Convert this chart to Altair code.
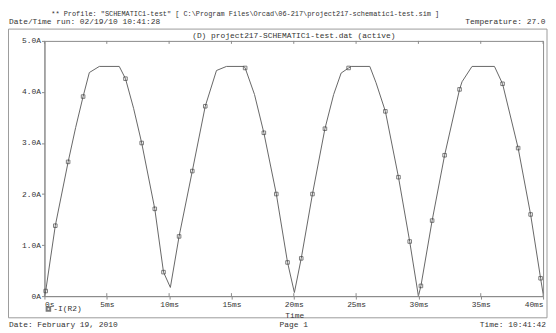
import altair as alt
import pandas as pd

# ---- data ----
line_t = [0.0, 0.1, 0.87, 1.9, 2.5, 3.1, 3.6, 4.4, 6.0, 6.5, 7.15, 7.8, 8.85, 9.55, 10.1,
          10.8, 11.86, 12.9, 13.8, 14.6, 16.0, 16.1, 16.85, 17.6, 18.6, 19.5, 20.05,
          20.6, 21.5, 22.5, 23.2, 23.8, 24.4, 24.6, 26.1, 26.6, 27.35, 28.4, 29.3, 30.0,
          30.2, 31.1, 32.1, 33.3, 33.5, 34.3, 36.1, 36.75, 38.0, 39.0, 39.8, 40.0]
line_i = [0.0, 0.1, 1.38, 2.63, 3.3, 3.91, 4.38, 4.5, 4.5, 4.26, 3.68, 3.0, 1.71, 0.47, 0.17,
          1.17, 2.45, 3.72, 4.42, 4.5, 4.5, 4.47, 3.95, 3.2, 2.0, 0.66, 0.07,
          0.74, 2.0, 3.28, 3.95, 4.37, 4.47, 4.5, 4.5, 4.18, 3.62, 2.33, 1.07, 0.0,
          0.2, 1.48, 2.76, 4.05, 4.2, 4.5, 4.5, 4.16, 2.9, 1.6, 0.35, 0.05]
marker_t = [0.1, 0.87, 1.9, 3.1, 6.5, 7.8, 8.85, 9.55,
            10.8, 11.86, 12.9, 16.1, 17.6, 18.6, 19.5,
            20.6, 21.5, 22.5, 24.4, 27.35, 28.4, 29.3,
            30.2, 31.1, 32.1, 33.3, 36.75, 38.0, 39.0, 39.8]
marker_i = [0.1, 1.38, 2.63, 3.91, 4.26, 3.0, 1.71, 0.47,
            1.17, 2.45, 3.72, 4.47, 3.2, 2.0, 0.66,
            0.74, 2.0, 3.28, 4.47, 3.62, 2.33, 1.07,
            0.2, 1.48, 2.76, 4.05, 4.16, 2.9, 1.6, 0.35]
x_ticks = [0, 5, 10, 15, 20, 25, 30, 35, 40]
y_ticks = [0, 1, 2, 3, 4, 5]

header1 = '** Profile: "SCHEMATIC1-test"  [ C:\\Program Files\\Orcad\\06-217\\project217-schematic1-test.sim ]'
header2 = "Date/Time run: 02/19/10 10:41:28"
temp_txt = "Temperature: 27.0"
title_txt = "(D) project217-SCHEMATIC1-test.dat (active)"
xtitle = "Time"
legend_txt = "-I(R2)"
foot_left = "Date: February 19, 2010"
foot_mid = "Page 1"
foot_right = "Time: 10:41:42"

FONT = "Liberation Mono"
TXT = "#333333"
GRID = "#8a8a8a"
W, H = 506, 259

df_line = pd.DataFrame({"t": line_t, "i": line_i})
df_mark = pd.DataFrame({"t": marker_t, "i": marker_i})
df_xt = pd.DataFrame({"t": x_ticks})
one = alt.Data(values=[{"a": 1}])

xs = alt.Scale(domain=[0, 40], nice=False, zero=False)
ys = alt.Scale(domain=[0, 5], nice=False)

axis_common = dict(labelFont=FONT, labelFontSize=8, labelColor=TXT, domainColor=GRID,
                   tickColor=GRID, tickSize=3, grid=False, title=None)

line = alt.Chart(df_line).mark_line(color="#666666", strokeWidth=1).encode(
    x=alt.X("t:Q", scale=xs, axis=alt.Axis(values=x_ticks, labelPadding=2,
            labelExpr="datum.value == 0 ? '0s' : datum.value + 'ms'", **axis_common)),
    y=alt.Y("i:Q", scale=ys, axis=alt.Axis(values=y_ticks, labelPadding=1,
            labelExpr="datum.value == 0 ? '0A' : format(datum.value, '.1f') + 'A'", **axis_common)),
)

marks = alt.Chart(df_mark).mark_point(shape="square", size=13, filled=False,
                                      color="#444444", strokeWidth=1).encode(
    x=alt.X("t:Q", scale=xs), y=alt.Y("i:Q", scale=ys))

top_ticks = alt.Chart(df_xt).mark_rule(color=GRID).encode(
    x=alt.X("t:Q", scale=xs), y=alt.value(0), y2=alt.value(3))
bot_ticks = alt.Chart(df_xt).mark_rule(color=GRID).encode(
    x=alt.X("t:Q", scale=xs), y=alt.value(H - 3), y2=alt.value(H))

frame = alt.Chart(one).mark_rect(fill=None, stroke="#9a9a9a", strokeWidth=1).encode(
    x=alt.value(-36.5), x2=alt.value(510), y=alt.value(-12), y2=alt.value(281))


def txt(s, x, y, align="left", size=8):
    return alt.Chart(one).mark_text(text=s, align=align, baseline="middle", font=FONT,
                                    fontSize=size, color=TXT).encode(
        x=alt.value(x), y=alt.value(y))


legend_box = alt.Chart(one).mark_point(shape="square", size=13, filled=False,
                                       color="#444444").encode(x=alt.value(4), y=alt.value(272))

layers = [frame, line, marks, top_ticks, bot_ticks,
          txt(header1, 7, -27, size=7),
          txt(header2, -36, -19),
          txt(temp_txt, 427, -19),
          txt(title_txt, 253, -5, align="center"),
          txt(xtitle, 254, 279, align="center"),
          legend_box,
          txt(legend_txt, 9, 272),
          txt(foot_left, -36, 288),
          txt(foot_mid, 253, 288, align="center"),
          txt(foot_right, 509, 288, align="right")]

chart = alt.layer(*layers).properties(
    width=W, height=H,
    padding={"left": 37, "top": 31, "right": 5, "bottom": 33},
    autosize=alt.AutoSizeParams(type="none"),
    background="white",
).configure_view(stroke=GRID, strokeWidth=1)

chart.save("out.html", embed_options={"renderer": "svg", "actions": False})
